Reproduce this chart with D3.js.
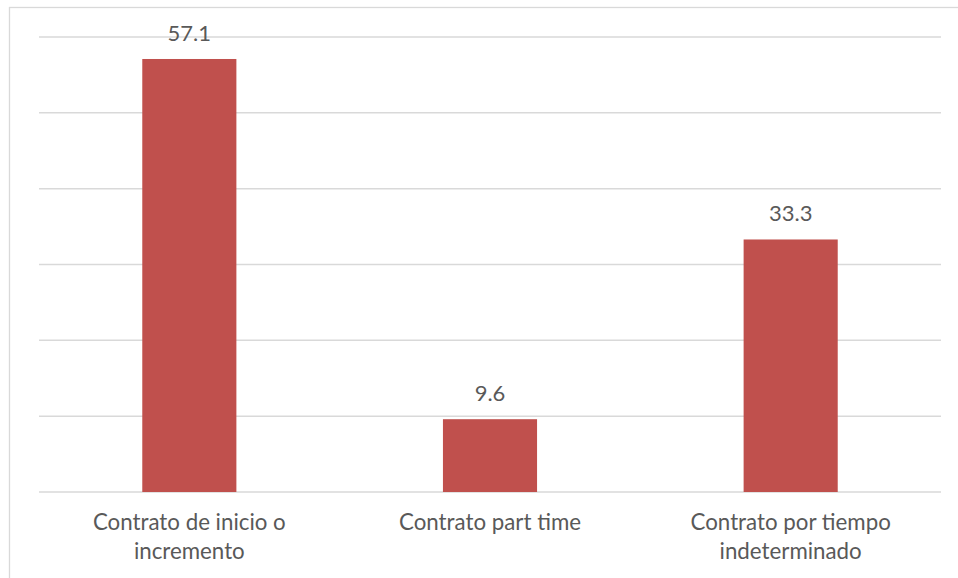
<!DOCTYPE html>
<html>
<head>
<meta charset="utf-8">
<script src="https://cdn.jsdelivr.net/npm/d3@7"></script>
<style>
  html, body { margin: 0; padding: 0; background: #fff; }
  svg text { font-family: Lato, "Open Sans", sans-serif; fill: #595959; }
</style>
</head>
<body>
<svg id="chart" width="958" height="578"></svg>
<script>
// Tipos de contrato (porcentaje)
const categories = [
  ["Contrato de inicio o", "incremento"],
  ["Contrato part time"],
  ["Contrato por tiempo", "indeterminado"]
];
const values = [57.1, 9.6, 33.3];
const gridTicks = [0, 10, 20, 30, 40, 50, 60];

const svg = d3.select("#chart");
const W = 958, H = 578;
const plot = { left: 39, right: 941, top: 37, bottom: 492 };

// chart frame
svg.append("rect")
  .attr("x", 9.5).attr("y", 7.5)
  .attr("width", W + 10).attr("height", H + 10)
  .attr("fill", "#fff").attr("stroke", "#d9d9d9").attr("stroke-width", 1.3);

const x = d3.scaleBand()
  .domain(d3.range(values.length))
  .range([plot.left, plot.right])
  .paddingInner(0.687)
  .paddingOuter(0.3435);

const y = d3.scaleLinear().domain([0, 60]).range([plot.bottom, plot.top]);

// horizontal gridlines
svg.append("g").selectAll("line")
  .data(gridTicks)
  .join("line")
  .attr("x1", plot.left).attr("x2", plot.right)
  .attr("y1", d => y(d)).attr("y2", d => y(d))
  .attr("stroke", "#d9d9d9").attr("stroke-width", 1.5);

// bars
svg.append("g").selectAll("rect")
  .data(values)
  .join("rect")
  .attr("x", (d, i) => x(i))
  .attr("y", d => y(d))
  .attr("width", x.bandwidth())
  .attr("height", d => y(0) - y(d))
  .attr("fill", "#c0504d");

// value labels
svg.append("g").selectAll("text")
  .data(values)
  .join("text")
  .attr("x", (d, i) => x(i) + x.bandwidth() / 2)
  .attr("y", d => y(d) - 18)
  .attr("text-anchor", "middle")
  .attr("font-size", 22)
  .text(d => d.toFixed(1));

// category labels
const cat = svg.append("g").selectAll("text")
  .data(categories)
  .join("text")
  .attr("x", (d, i) => x(i) + x.bandwidth() / 2)
  .attr("y", 530)
  .attr("text-anchor", "middle")
  .attr("font-size", 22.3);
cat.selectAll("tspan")
  .data(d => d)
  .join("tspan")
  .attr("x", function () { return d3.select(this.parentNode).attr("x"); })
  .attr("dy", (d, i) => i === 0 ? 0 : 28.5)
  .text(d => d);
</script>
</body>
</html>
